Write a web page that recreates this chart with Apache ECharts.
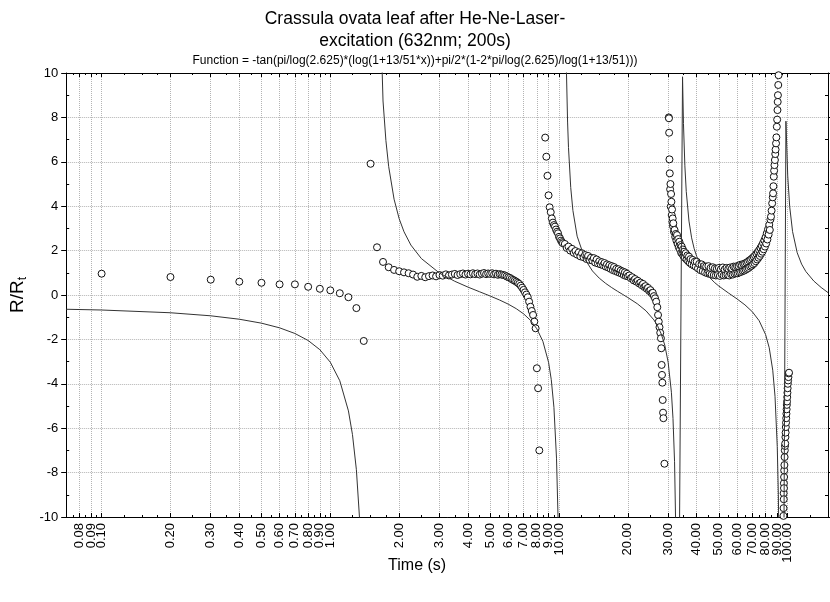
<!DOCTYPE html>
<html>
<head>
<meta charset="utf-8">
<script src="https://cdn.jsdelivr.net/npm/echarts@6/dist/echarts.min.js"></script>
<style>
html, body { margin: 0; padding: 0; background: #fff; }
#chart { width: 830px; height: 602px; }
</style>
</head>
<body>
<div id="chart"></div>
<script>
// Measured resistance ratio R/Rt against time (s), by stretch of the record
const timeA  = [0.1,0.2,0.3,0.4,0.5,0.6,0.7,0.8,0.9,1.0,1.1,1.2,1.3,1.4,1.5];
const ratioA = [0.96,0.81,0.69,0.60,0.55,0.48,0.48,0.37,0.28,0.21,0.08,-0.10,-0.59,-2.07,5.91];

const timeB  = [1.6,1.7,1.8,1.9,2.0,2.1,2.2,2.3,2.4,2.5,2.6,2.7,2.8,2.9,3.0,3.1,3.2,3.3,3.4,3.5,3.6,3.7,3.8,3.9,4.0,4.1,4.2,4.3,4.4,4.5,4.6,4.7,4.8,4.9,5.0,5.1,5.2,5.3,5.4,5.5,5.6,5.7,5.8,5.9,6.0,6.1,6.2,6.3,6.4,6.5,6.6,6.7,6.8,6.9,7.0,7.1,7.2,7.3,7.4,7.5,7.6,7.7,7.8,7.9,8.0,8.1,8.2];
const ratioB = [2.15,1.49,1.25,1.13,1.07,1.02,0.98,0.92,0.82,0.86,0.80,0.85,0.88,0.84,0.90,0.87,0.93,0.88,0.92,0.95,0.90,0.94,0.97,0.92,0.96,0.93,0.98,0.94,0.97,0.92,0.96,0.99,0.94,0.97,0.95,0.98,0.93,0.96,0.91,0.94,0.92,0.90,0.88,0.84,0.80,0.77,0.72,0.68,0.64,0.60,0.55,0.50,0.42,0.33,0.23,0.12,0.02,-0.10,-0.30,-0.53,-0.72,-0.90,-1.20,-1.50,-3.30,-4.20,-7.00];

const timeC  = [8.7,8.8,8.9,9.0,9.1,9.2,9.3,9.4,9.5,9.6,9.7,9.8,9.9,10.0,10.1,10.2,10.3,10.4,10.6,10.8,11.0,11.2,11.4,11.6,11.8,12.0,12.2,12.4,12.6,12.8,13.0,13.2,13.4,13.6,13.8,14.0,14.2,14.4,14.6,14.8,15.0,15.2,15.4,15.6,15.8,16.0,16.2,16.4,16.6,16.8,17.0,17.2,17.4,17.6,17.8,18.0,18.2,18.4,18.6,18.8,19.0,19.2,19.4,19.6,19.8,20.0,20.3,20.6,20.9,21.2,21.5,21.8,22.1,22.4,22.7,23.0,23.3,23.6,23.9,24.2,24.5,24.8,25.1,25.4,25.7,26.0,26.3,26.6,26.9,27.1,27.3,27.5,27.7,27.9,28.0,28.1,28.2,28.3,28.4,28.5,28.6,28.9];
const ratioC = [7.09,6.23,5.37,4.49,3.95,3.73,3.45,3.26,3.15,3.08,2.95,2.85,2.78,2.62,2.55,2.45,2.38,2.33,2.30,2.12,2.18,2.00,2.08,1.90,1.98,1.82,1.92,1.74,1.88,1.70,1.80,1.62,1.76,1.58,1.68,1.55,1.66,1.46,1.60,1.42,1.52,1.38,1.48,1.34,1.44,1.28,1.38,1.24,1.34,1.18,1.30,1.12,1.26,1.08,1.18,1.04,1.16,1.00,1.10,0.96,1.06,0.90,1.02,0.86,0.96,0.84,0.88,0.76,0.80,0.66,0.72,0.60,0.64,0.52,0.56,0.44,0.50,0.36,0.40,0.28,0.32,0.18,0.22,0.08,0.10,-0.05,-0.15,-0.30,-0.55,-0.90,-1.20,-1.45,-1.70,-1.95,-2.40,-3.15,-3.60,-3.95,-4.73,-5.30,-5.55,-7.60];

const timeD  = [30.2,30.25,30.3,30.4,30.5,30.6,30.7,30.8,30.9,31.0,31.1,31.2,31.3,31.4,31.5,31.6,31.8,32.0,32.2,32.4,32.6,32.8,33.0,33.2,33.4,33.6,33.8,34.0,34.2,34.4,34.6,34.8,35.0,35.2,35.5,35.8,36.1,36.4,36.7,37.0,37.3,37.6,38.0,38.4,38.8,39.2,39.6,40.0,40.5,41.0,41.5,42.0,42.5,43.0,43.5,44.0,44.5,45.0,45.5,46.0,46.5,47.0,47.5,48.0,48.5,49.0,49.5,50.0,50.5,51.0,51.5,52.0,52.5,53.0,53.5,54.0,54.5,55.0,55.5,56.0,56.5,57.0,57.5,58.0,58.5,59.0,59.5,60.0,60.5,61.0,61.5,62.0,62.5,63.0,63.5,64.0,64.5,65.0,65.5,66.0,66.5,67.0,67.5,68.0,68.5,69.0,69.5,70.0,70.5,71.0,71.5,72.0,72.5,73.0,73.5,74.0,74.5,75.0,75.5,76.0,76.5,77.0,77.5,78.0,78.5,79.0,79.5,80.0,80.5,81.0,81.5,82.0,82.5,83.0,83.5,84.0,84.5,85.0,85.5,86.0,86.3,86.6,86.9,87.2,87.5,87.9,88.2,88.5,88.9,89.2,89.6,89.9,90.2,90.4,90.6,90.9,91.2];
const ratioD = [8.00,7.96,7.31,6.11,5.48,4.76,5.00,3.98,4.55,4.20,3.60,3.85,3.30,3.45,3.10,3.23,2.85,2.93,2.62,2.75,2.45,2.70,2.30,2.52,2.15,2.40,2.05,2.25,1.90,2.18,1.85,2.05,1.75,1.95,1.68,1.88,1.60,1.78,1.52,1.73,1.45,1.62,1.38,1.58,1.33,1.50,1.28,1.50,1.20,1.40,1.12,1.38,1.08,1.30,1.02,1.28,0.98,1.30,0.95,1.22,0.92,1.25,0.90,1.20,0.88,1.18,0.90,1.22,0.86,1.16,0.92,1.24,0.88,1.15,0.90,1.22,0.92,1.18,0.88,1.24,0.94,1.20,0.92,1.28,0.96,1.26,0.98,1.30,0.98,1.30,1.02,1.36,1.04,1.34,1.08,1.40,1.10,1.42,1.14,1.46,1.18,1.50,1.22,1.56,1.28,1.60,1.32,1.66,1.38,1.72,1.44,1.78,1.52,1.86,1.60,1.94,1.68,2.02,1.76,2.12,1.86,2.22,1.95,2.34,2.06,2.46,2.18,2.60,2.32,2.78,2.50,2.96,2.72,3.16,2.93,3.40,3.53,3.80,4.13,4.40,4.58,4.90,5.33,5.60,5.85,6.08,6.35,6.55,6.83,7.10,7.58,7.90,8.33,8.70,9.00,9.46,9.90];

const timeE  = [95.8,95.9,96.0,96.1,96.2,96.3,96.4,96.5,96.7,96.9,97.1,97.3,97.5,97.7,97.9,98.1,98.3,98.5,98.7,98.9,99.1,99.3,99.5,99.7,99.9,100.1,100.4,100.7,101.0,101.3];
const ratioE = [-9.95,-9.60,-8.93,-9.20,-8.48,-8.70,-8.20,-7.90,-7.66,-7.30,-7.00,-6.80,-6.69,-6.40,-6.20,-5.95,-5.75,-5.55,-5.35,-5.15,-4.95,-4.80,-4.60,-4.40,-4.20,-4.00,-3.85,-3.70,-3.53,-3.50];

// Fitted tangent function (null = break at a pole)
const fitTime  = [0.07,0.1,0.2,0.3,0.4,0.5,0.6,0.7,0.8,0.9,1.0,1.1,1.2,1.25,1.3,1.35,1.4,1.45,1.507,1.55,1.6,1.7,1.75,1.8,1.9,2.0,2.1,2.25,2.5,3.0,3.5,4.0,4.5,5.0,5.5,6.0,6.5,7.0,7.5,8.0,8.5,9.0,9.25,9.5,9.75,9.9,10.0,10.2,10.33,10.5,10.6,10.75,10.9,11.0,11.25,11.5,12,13,14,15,16,17,18,19,20,22,24,26,27,28,29,30,31,31.5,32,32.5,33,34.68,35,35.5,36,37,38,39,40,42,45,48,50,55,60,65,70,75,80,83,86,88,90,91,92,93.5,98.2,100,102,105,110,115,120,130,140,150];
const fitRatio = [-0.642,-0.676,-0.800,-0.937,-1.091,-1.269,-1.479,-1.733,-2.049,-2.463,-3.028,-3.862,-5.22,-6.29,-7.87,-10.46,-15.46,-29.3,null,38.6,18.0,8.74,6.96,5.78,4.316,3.437,2.849,2.250,1.643,0.989,0.618,0.355,0.143,-0.046,-0.228,-0.413,-0.616,-0.850,-1.139,-1.523,-2.088,-3.028,-3.813,-5.06,-7.35,-10.0,-13.1,-33.5,null,25.9,16.35,10.55,7.79,6.64,4.843,3.808,2.650,1.600,1.083,0.757,0.522,0.333,0.171,0.024,-0.116,-0.395,-0.712,-1.124,-1.400,-1.760,-2.258,-3.028,-4.38,-5.56,-7.51,-11.42,-23.2,9.83,7.73,5.82,4.662,3.330,2.575,2.083,1.739,1.272,0.838,0.552,0.401,0.093,-0.175,-0.445,-0.754,-1.159,-1.780,-2.377,-3.387,-4.568,-6.83,-9.0,-13.0,-38.0,7.83,5.37,3.98,2.855,1.904,1.392,1.059,0.629,0.339,0.109];

// Log time axis: labelled ticks and the small ticks between them
const timeTickLabels = [0.08,0.09,0.1,0.2,0.3,0.4,0.5,0.6,0.7,0.8,0.9,1,2,3,4,5,6,7,8,9,10,20,30,40,50,60,70,80,90,100];
const timeMinorTicks = [0.075,0.085,0.095,0.125,0.15,0.175,0.25,0.35,0.45,0.55,0.65,0.75,0.85,0.95,1.25,1.5,1.75,2.5,3.5,4.5,5.5,6.5,7.5,8.5,9.5,12.5,15,17.5,25,35,45,55,65,75,85,95,125];
const timeRange = [0.07, 150];
const ratioRange = [-10, 10];
const ratioMinorTicks = [-9,-7,-5,-3,-1,1,3,5,7,9];

const FONT = "'Liberation Sans', Arial, Helvetica, sans-serif";
const lg = Math.log10;
const pairs = (ts, rs) => ts.map((t, i) => [lg(t), rs[i]]);

const points = [].concat(
  pairs(timeA, ratioA), pairs(timeB, ratioB), pairs(timeC, ratioC),
  pairs(timeD, ratioD), pairs(timeE, ratioE)
);
const fitLine = pairs(fitTime, fitRatio);

const xMin = lg(timeRange[0]);
const xMax = lg(timeRange[1]);
const labelPos = timeTickLabels.map(lg);
const minorPos = timeMinorTicks.map(lg);

function timeAxis(position, opts) {
  return Object.assign({
    type: 'value', position: position, min: xMin, max: xMax,
    axisLine: { show: false, onZero: false },
    axisTick: { show: false },
    axisLabel: { show: false },
    splitLine: { show: false }
  }, opts);
}
function ratioAxis(position, opts) {
  return Object.assign({
    type: 'value', position: position, min: ratioRange[0], max: ratioRange[1],
    axisLine: { show: false, onZero: false },
    axisTick: { show: false },
    axisLabel: { show: false },
    splitLine: { show: false }
  }, opts);
}
// Closely packed log labels are spread over three label-only axes so none is dropped
function timeLabelAxis(k) {
  return timeAxis('bottom', {
    axisLabel: {
      show: true, customValues: labelPos.filter((v, i) => i % 3 === k),
      interval: 0, rotate: 90, margin: 6,
      fontFamily: FONT, fontSize: 13, color: '#000',
      formatter: v => Math.pow(10, v).toFixed(2)
    }
  });
}

const chart = echarts.init(document.getElementById('chart'), null, { renderer: 'canvas' });

chart.setOption({
  animation: false,
  backgroundColor: '#ffffff',
  title: [
    {
      text: 'Crassula ovata leaf after He-Ne-Laser-\nexcitation (632nm; 200s)',
      left: 'center', top: 3,
      textStyle: { fontFamily: FONT, fontSize: 17.5, fontWeight: 'normal', color: '#000', lineHeight: 22 }
    },
    {
      text: 'Function = -tan(pi/log(2.625)*(log(1+13/51*x))+pi/2*(1-2*pi/log(2.625)/log(1+13/51)))',
      left: 'center', top: 50,
      textStyle: { fontFamily: FONT, fontSize: 12, fontWeight: 'normal', color: '#000' }
    }
  ],
  grid: { left: 64, right: 2, top: 73, bottom: 85, containLabel: false },
  xAxis: [
    timeAxis('bottom', {
      name: 'Time (s)', nameLocation: 'middle', nameGap: 41,
      nameTextStyle: { fontFamily: FONT, fontSize: 16, color: '#000', padding: [0, 60, 0, 0] },
      axisLine: { show: true, onZero: false, lineStyle: { color: '#000', width: 1 } },
      axisTick: { show: true, inside: true, length: 4, customValues: labelPos, lineStyle: { color: '#000' } },
      splitLine: { show: true, lineStyle: { color: '#b4b4b4', type: 'dotted', width: 1 } }
    }),
    timeAxis('bottom', {
      axisTick: { show: true, inside: true, length: 2, customValues: minorPos, lineStyle: { color: '#000' } }
    }),
    timeAxis('top', {
      axisLine: { show: true, onZero: false, lineStyle: { color: '#000', width: 1 } },
      axisTick: { show: true, inside: true, length: 4, customValues: labelPos, lineStyle: { color: '#000' } }
    }),
    timeAxis('top', {
      axisTick: { show: true, inside: true, length: 2, customValues: minorPos, lineStyle: { color: '#000' } }
    }),
    timeLabelAxis(0),
    timeLabelAxis(1),
    timeLabelAxis(2)
  ],
  yAxis: [
    ratioAxis('left', {
      interval: 2,
      name: '{m|R/R}{s|t}', nameLocation: 'middle', nameGap: 36,
      nameTextStyle: {
        color: '#000',
        rich: {
          m: { fontFamily: FONT, fontSize: 19, color: '#000' },
          s: { fontFamily: FONT, fontSize: 12, color: '#000', verticalAlign: 'bottom', padding: [10, 0, 0, 0] }
        }
      },
      axisLine: { show: true, onZero: false, lineStyle: { color: '#000', width: 1 } },
      axisTick: { show: true, inside: false, length: 5, lineStyle: { color: '#000' } },
      axisLabel: { show: true, margin: 8, fontFamily: FONT, fontSize: 13, color: '#000' },
      splitLine: { show: true, lineStyle: { color: '#b4b4b4', type: 'dotted', width: 1 } }
    }),
    ratioAxis('left', {
      axisTick: { show: true, inside: true, length: 3, customValues: ratioMinorTicks, lineStyle: { color: '#000' } }
    }),
    ratioAxis('right', {
      interval: 2,
      axisLine: { show: true, onZero: false, lineStyle: { color: '#000', width: 1 } },
      axisTick: { show: true, inside: false, length: 5, lineStyle: { color: '#000' } }
    }),
    ratioAxis('right', {
      axisTick: { show: true, inside: true, length: 3, customValues: ratioMinorTicks, lineStyle: { color: '#000' } }
    })
  ],
  series: [
    {
      name: 'measured',
      type: 'scatter',
      xAxisIndex: 0, yAxisIndex: 0,
      data: points,
      symbol: 'circle',
      symbolSize: 7,
      itemStyle: { color: '#ffffff', borderColor: '#111111', borderWidth: 1, opacity: 1 },
      z: 2
    },
    {
      name: 'fit',
      type: 'line',
      xAxisIndex: 0, yAxisIndex: 0,
      data: fitLine,
      showSymbol: false,
      symbol: 'none',
      connectNulls: false,
      clip: true,
      lineStyle: { color: '#333333', width: 1 },
      z: 3
    }
  ]
});
</script>
</body>
</html>
